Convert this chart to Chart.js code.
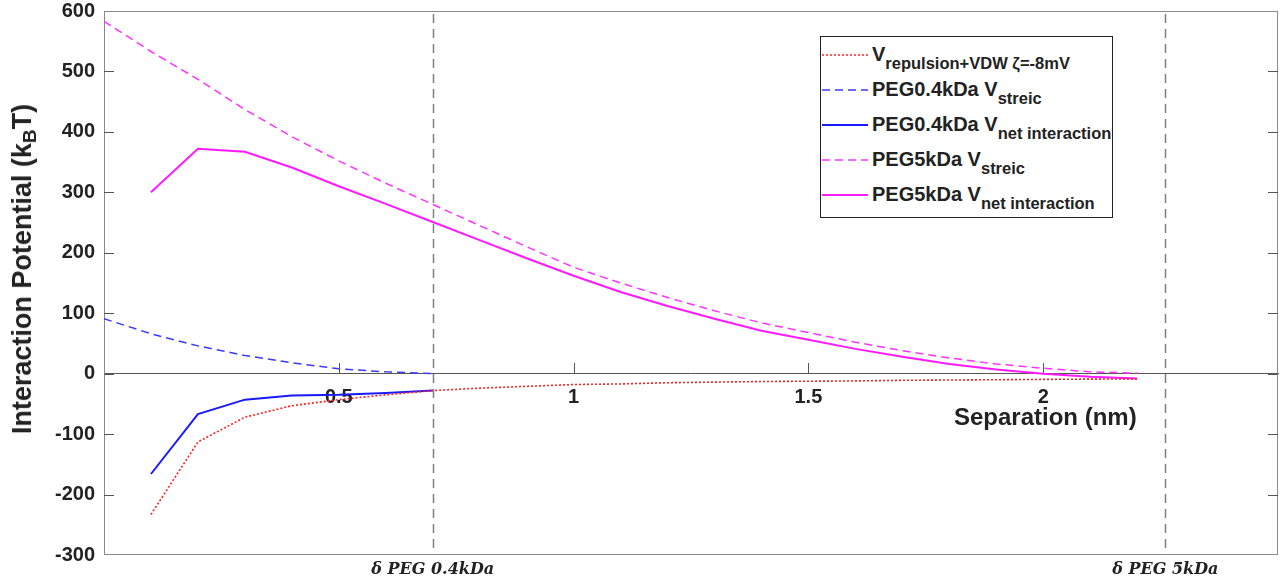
<!DOCTYPE html>
<html>
<head>
<meta charset="utf-8">
<script src="https://cdn.jsdelivr.net/npm/chart.js@4.4.1/dist/chart.umd.min.js"></script>
<style>
  html, body { margin: 0; padding: 0; background: #fff; }
  #wrap {
    position: relative;
    width: 1281px;
    height: 582px;
    font-family: "Liberation Sans", Arial, sans-serif;
    color: #222;
  }
  #chart { position: absolute; left: 0; top: 0; }
  .y-title {
    position: absolute;
    left: 24px;
    top: 269px;
    transform: translate(-50%, -50%) rotate(-90deg);
    font-weight: bold;
    font-size: 27px;
    white-space: nowrap;
  }
  .y-title sub { font-size: 19px; vertical-align: -5px; }
  .x-title {
    position: absolute;
    left: 954px;
    top: 403px;
    font-weight: bold;
    font-size: 24px;
    white-space: nowrap;
  }
  .legend {
    position: absolute;
    left: 820px;
    top: 36px;
    width: 293px;
    height: 182px;
    box-sizing: border-box;
    border: 1px solid #222;
    background: #fff;
  }
  .legend svg { position: absolute; left: 0; top: 0; }
  .legend .row {
    position: absolute;
    left: 51px;
    font-weight: bold;
    font-size: 20px;
    line-height: 24px;
    white-space: nowrap;
  }
  .legend .row sub { font-size: 16.5px; vertical-align: -8px; }
</style>
</head>
<body>
<div id="wrap">
  <canvas id="chart" width="1281" height="582"></canvas>
  <div class="y-title">Interaction Potential (k<sub>B</sub>T)</div>
  <div class="x-title">Separation (nm)</div>
  <div class="legend" id="legend"></div>
</div>
<script>
// separation in nm
const separation = [0, 0.1, 0.2, 0.3, 0.4, 0.5, 0.6, 0.7, 0.8, 0.9, 1.0, 1.1,
  1.2, 1.3, 1.4, 1.5, 1.6, 1.7, 1.8, 1.9, 2.0, 2.1, 2.2]

// potentials in kBT (null = not computed at that separation)
const vdwRepulsion = [null, -233, -113, -72, -53, -43, -35, -28, -24, -21, -18,
  -17, -15, -14, -13, -12.5, -12, -11, -10.5, -10, -9.5, -9, -8.8]
const peg04Steric = [91, 66, 46, 30, 18, 8, 3, 0]
const peg04Net = [null, -166, -67, -43, -36, -35, -32, -28]
const peg5Steric = [583, 533, 487, 437, 392, 352, 315, 280, 245, 210, 176, 150,
  126, 104, 84, 68, 52, 38, 26, 16, 9, 3, 1]
const peg5Net = [null, 300, 372, 367, 341, 310, 281, 251, 221, 191, 162, 135,
  112, 91, 71, 56, 41, 28, 16, 7, 0, -5, -8]

// brush layer thickness markers
const deltaPositions = [0.7, 2.26]
const deltaLabels = ["\u03B4 PEG 0.4kDa", "\u03B4 PEG 5kDa"]

const legendMain = ["V", "PEG0.4kDa V", "PEG0.4kDa V", "PEG5kDa V", "PEG5kDa V"]
const legendSub = ["repulsion+VDW \u03B6=-8mV", "streic", "net interaction", "streic", "net interaction"]

const textColor = "#222"
const fontFamily = "'Liberation Sans', Arial, sans-serif"

function toPoints(values) {
  return separation
    .map((x, i) => ({ x, y: values[i] }))
    .filter(p => p.y !== null && p.y !== undefined)
}

const series = [
  { values: vdwRepulsion, color: "#ff2020", dash: [2, 2], width: 1.6 },
  { values: peg04Steric, color: "#3a3aff", dash: [8, 5], width: 1.5 },
  { values: peg04Net, color: "#1a1aff", dash: [], width: 2 },
  { values: peg5Steric, color: "#ff33ff", dash: [8, 5], width: 1.5 },
  { values: peg5Net, color: "#ff1aff", dash: [], width: 2 }
]

// keep the plot box fixed: no extra room for overhanging labels
function noPadding(scale) {
  scale.paddingLeft = 0
  scale.paddingRight = 0
  scale.paddingTop = 0
  scale.paddingBottom = 0
}

// box, inward ticks and the dashed delta lines
const matlabAxes = {
  id: "matlabAxes",
  beforeDatasetsDraw(chart) {
    const { ctx, chartArea: a, scales } = chart
    const x = scales.x
    const y = scales.y
    ctx.save()
    ctx.lineWidth = 1
    ctx.strokeStyle = "#8a8a8a"
    ctx.strokeRect(a.left + 0.5, a.top + 0.5, a.right - a.left - 1, a.bottom - a.top - 1)

    ctx.strokeStyle = "#555"
    ctx.beginPath()
    y.ticks.forEach(t => {
      if (t.value === y.min || t.value === y.max) return
      const py = Math.round(y.getPixelForValue(t.value)) + 0.5
      ctx.moveTo(a.left, py)
      ctx.lineTo(a.left + 10, py)
      ctx.moveTo(a.right, py)
      ctx.lineTo(a.right - 10, py)
    })
    const zero = Math.round(y.getPixelForValue(0))
    x.ticks.forEach(t => {
      if (t.value === x.min || t.value === x.max) return
      const px = Math.round(x.getPixelForValue(t.value)) + 0.5
      ctx.moveTo(px, zero)
      ctx.lineTo(px, zero - 11)
    })
    ctx.stroke()
    ctx.restore()
  },
  afterDatasetsDraw(chart) {
    const { ctx, chartArea: a, scales } = chart
    ctx.save()
    ctx.strokeStyle = "#808080"
    ctx.lineWidth = 1.5
    ctx.setLineDash([9, 6])
    ctx.beginPath()
    deltaPositions.forEach(v => {
      const px = Math.round(scales.x.getPixelForValue(v)) + 0.5
      ctx.moveTo(px, a.top + 3)
      ctx.lineTo(px, a.bottom)
    })
    ctx.stroke()
    ctx.restore()
  }
}

new Chart(document.getElementById("chart"), {
  type: "line",
  data: {
    datasets: series.map((s, i) => ({
      label: legendMain[i] + " " + legendSub[i],
      data: toPoints(s.values),
      borderColor: s.color,
      borderWidth: s.width,
      borderDash: s.dash,
      pointRadius: 0,
      fill: false,
      tension: 0
    }))
  },
  options: {
    responsive: false,
    animation: false,
    layout: { padding: { top: 11, right: 3, left: 0, bottom: 0 } },
    plugins: {
      legend: { display: false },
      tooltip: { enabled: false }
    },
    scales: {
      x: {
        type: "linear",
        min: 0,
        max: 2.5,
        position: { y: 0 },
        grid: { display: false, drawTicks: false },
        border: { display: true, color: "#555", width: 1 },
        afterFit: noPadding,
        ticks: {
          stepSize: 0.5,
          padding: 12,
          color: textColor,
          font: { family: fontFamily, size: 20, weight: "bold" },
          callback: v => (v === 0 || v === 2.5 ? "" : String(v))
        }
      },
      x2: {
        type: "linear",
        min: 0,
        max: 2.5,
        position: "bottom",
        grid: { display: false, drawTicks: false },
        border: { display: false },
        afterBuildTicks: scale => {
          scale.ticks = deltaPositions.map(v => ({ value: v }))
        },
        afterFit: scale => {
          noPadding(scale)
          scale.height = 27
        },
        ticks: {
          autoSkip: false,
          maxRotation: 0,
          padding: 5,
          color: textColor,
          font: { family: "'DejaVu Serif', serif", size: 16, weight: "bold", style: "italic" },
          callback: (v, i) => deltaLabels[i]
        }
      },
      y: {
        min: -300,
        max: 600,
        position: "left",
        grid: { display: false, drawTicks: false },
        border: { display: false },
        afterFit: scale => {
          noPadding(scale)
          scale.width = 104
        },
        ticks: {
          stepSize: 100,
          padding: 9,
          color: textColor,
          font: { family: fontFamily, size: 20, weight: "bold" }
        }
      }
    }
  },
  plugins: [matlabAxes]
})

// legend with subscripts
const legend = document.getElementById("legend")
const ns = "http://www.w3.org/2000/svg"
const svg = document.createElementNS(ns, "svg")
svg.setAttribute("width", "60")
svg.setAttribute("height", "180")
legend.appendChild(svg)
series.forEach((s, i) => {
  const cy = 18 + i * 35
  const line = document.createElementNS(ns, "line")
  line.setAttribute("x1", "1")
  line.setAttribute("x2", "47")
  line.setAttribute("y1", cy)
  line.setAttribute("y2", cy)
  line.setAttribute("stroke", s.color)
  line.setAttribute("stroke-width", s.width)
  if (s.dash.length) line.setAttribute("stroke-dasharray", s.dash.join(" "))
  svg.appendChild(line)

  const row = document.createElement("div")
  row.className = "row"
  row.style.top = (cy - 13) + "px"
  row.textContent = legendMain[i]
  const sub = document.createElement("sub")
  sub.textContent = legendSub[i]
  row.appendChild(sub)
  legend.appendChild(row)
})
</script>
</body>
</html>
